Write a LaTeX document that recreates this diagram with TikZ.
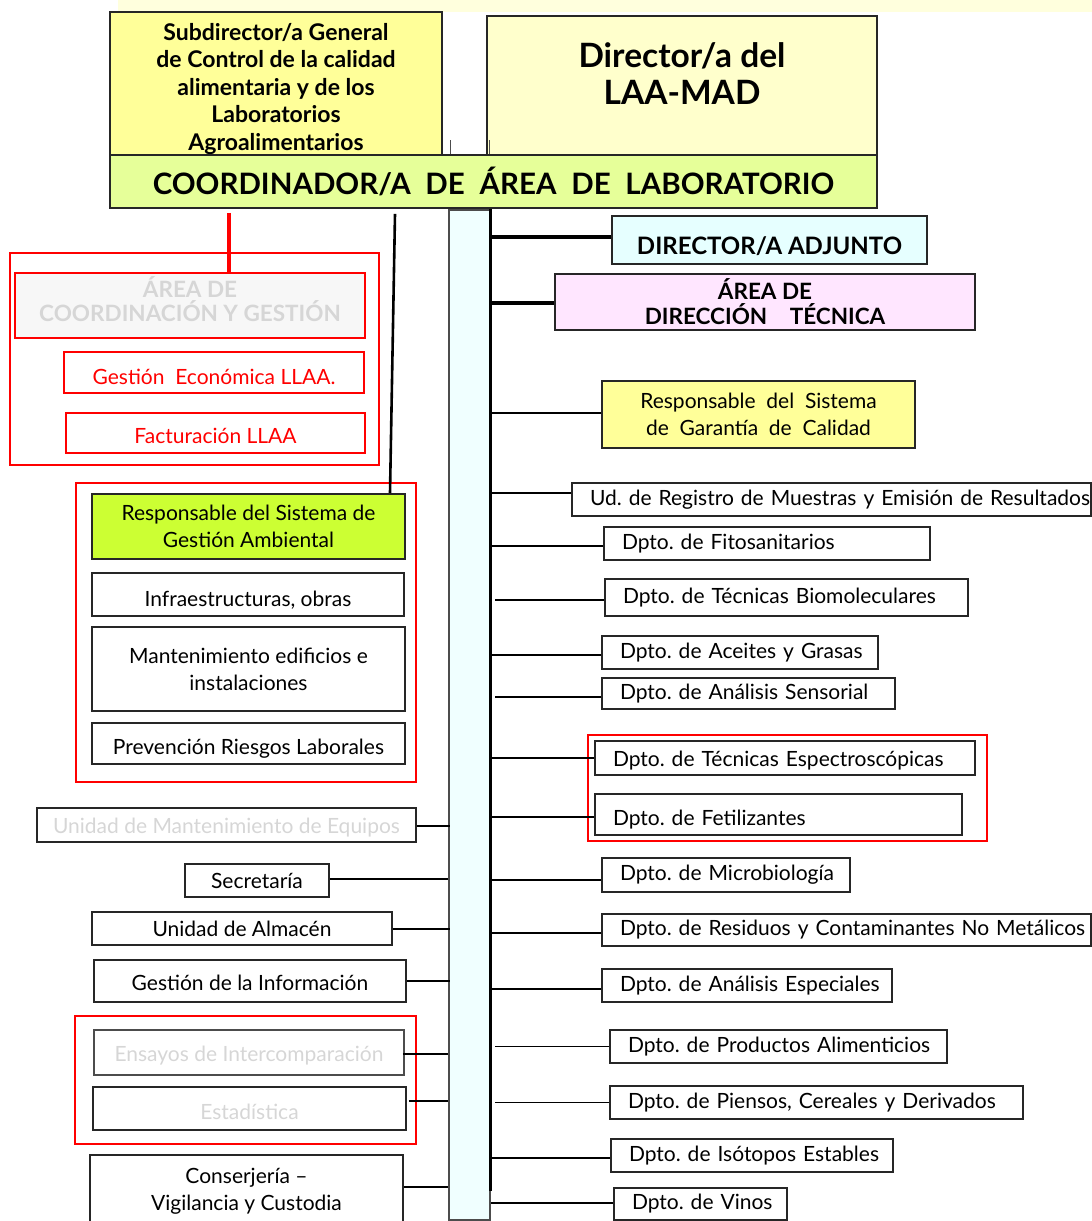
\documentclass[tikz,border=0pt]{standalone}
\usepackage{fontspec}
\setmainfont{Lato}
\definecolor{bandY}{HTML}{FFFFDD}
\definecolor{subY}{HTML}{FFFF99}
\definecolor{dirY}{HTML}{FFFFCC}
\definecolor{coordG}{HTML}{E6FF99}
\definecolor{adjC}{HTML}{E6FFFF}
\definecolor{tecP}{HTML}{FFE6FF}
\definecolor{gaG}{HTML}{CCFF33}
\definecolor{barC}{HTML}{F0FFFF}
\definecolor{ghost}{HTML}{D6D6D6}
\definecolor{ghostF}{HTML}{F7F7F7}
\newcommand\fs[2]{\fontsize{#1}{#2}\selectfont}
% name, x1, y1, x2, y2, options, text
\newcommand\bx[7]{%
  \pgfmathsetmacro\bxw{#4-#2}\pgfmathsetmacro\bxh{#5-#3}%
  \node[#6,minimum width=\bxw pt,minimum height=\bxh pt] (#1) at ({(#2+#4)/2},{(#3+#5)/2}) {#7};}
% left-aligned department box
\newcommand\dept[7]{%
  \pgfmathsetmacro\bxw{#4-#2}\pgfmathsetmacro\bxh{#5-#3}\pgfmathsetmacro\bxt{#4-#2-36}%
  \node[box,align=left,text width=\bxt pt,minimum width=\bxw pt,minimum height=\bxh pt,#6] (#1) at ({(#2+#4)/2},{(#3+#5)/2}) {\mbox{#7}};}
\begin{document}
\frenchspacing
\begin{tikzpicture}[x=1pt,y=-1pt,
  box/.style={draw=black!85,line width=1.6pt,inner sep=0pt,align=center,font=\fs{21}{27}},
  rbox/.style={draw=red,line width=1.4pt,inner sep=0pt},
  conn/.style={line width=1.6pt},
  tconn/.style={line width=3.8pt},
  tdown/.style={text height=#1,text depth=0pt}]
\useasboundingbox (0,0) rectangle (1092,1221);
% top band
\fill[bandY] (118,0) rectangle (1092,12);
% top boxes
\bx{sub}{110}{12}{442}{155}{box,fill=subY}{}
\node[font=\fs{23}{27.5}\bfseries,align=center] (subtext) at (276,89) {Subdirector/a General\\de Control de la calidad\\alimentaria y de los\\Laboratorios\\Agroalimentarios};
\bx{dir}{487}{16}{877}{155}{box,fill=dirY}{}
\node[font=\fs{33.5}{37}\bfseries,align=center] (dirtext) at (682,74) {Director/a del\\LAA-MAD};
\coordinate (t1a) at (450,140); \coordinate (t1b) at (450,155);
\coordinate (t2a) at (489,140); \coordinate (t2b) at (489,155);
\draw[line width=0.8pt,black!70] (t1a) -- (t1b) (t2a) -- (t2b);
\bx{coord}{110}{155}{877}{208}{box,fill=coordG,font=\fs{29.5}{32}\bfseries}{COORDINADOR/A\enspace DE\enspace ÁREA\enspace DE\enspace LABORATORIO}
% vertical bar
\bx{bar}{449}{210}{490}{1220}{draw=black!70,line width=1.4pt,fill=barC}{}
\draw[line width=2.6pt] (bar.north east) -- ([yshift=30pt]bar.south east);
% right column
\bx{adj}{612}{216}{927}{264}{box,fill=adjC,font=\fs{24}{24}\bfseries}{\raisebox{-14pt}[0pt][0pt]{DIRECTOR/A ADJUNTO}}
\bx{tec}{555}{274}{975}{330}{box,fill=tecP,font=\fs{22.5}{25}\bfseries}{ÁREA DE\\DIRECCIÓN\quad TÉCNICA}
\bx{gar}{602}{381}{915}{448}{box,fill=subY}{Responsable\ \ del\ \ Sistema\\de\ \ Garantía\ \ de\ \ Calidad}
\draw[tconn] ([yshift=3pt]adj.west) -- ++(-122,0);
\draw[tconn] ([yshift=-1pt]tec.west) -- ++(-65,0);
\draw[conn] ([yshift=1.5pt]gar.west) -- ++(-112,0);
% red group right
\bx{rg4}{588}{735}{987}{841}{rbox}{}
\dept{reg}{572}{483}{1091}{516}{}{Ud. de Registro de Muestras y Emisión de Resultados}
\dept{fito}{604}{527}{930}{560}{}{Dpto. de Fitosanitarios}
\dept{bio}{605}{579}{968}{616}{}{Dpto. de Técnicas Biomoleculares}
\dept{ace}{602}{636}{878}{669}{}{Dpto. de Aceites y Grasas}
\dept{sen}{602}{678}{895}{709}{}{Dpto. de Análisis Sensorial}
\dept{esp}{595}{741}{975}{775}{tdown=16.8pt}{Dpto. de Técnicas Espectroscópicas}
\dept{fet}{595}{794}{962}{835}{}{\raisebox{-11pt}[0pt][0pt]{Dpto. de Fetilizantes}}
\dept{micro}{602}{858}{850}{892}{}{Dpto. de Microbiología}
\dept{res}{602}{914}{1091}{946}{}{Dpto. de Residuos y Contaminantes No Metálicos}
\dept{aesp}{602}{969}{892}{1002}{}{Dpto. de Análisis Especiales}
\dept{prod}{610}{1030}{947}{1063}{}{Dpto. de Productos Alimenticios}
\dept{pien}{610}{1086}{1023}{1119}{}{Dpto. de Piensos, Cereales y Derivados}
\dept{iso}{611}{1139}{893}{1172}{}{Dpto. de Isótopos Estables}
\dept{vin}{614}{1188}{787}{1220}{}{Dpto. de Vinos}
\draw[conn] ([yshift=6.5pt]reg.west) -- ++(-82,0);
\draw[conn] ([yshift=-2.5pt]fito.west) -- ++(-114,0);
\draw[conn] ([yshift=-2.5pt]bio.west) -- ++(-109,0);
\draw[conn] ([yshift=-2.5pt]ace.west) -- ++(-112,0);
\draw[conn] ([yshift=-3.5pt]sen.west) -- ++(-106,0);
\draw[conn] (esp.west) -- ++(-105,0);
\draw[conn] ([yshift=-2.5pt]fet.west) -- ++(-105,0);
\draw[conn] ([yshift=-5pt]micro.west) -- ++(-112,0);
\draw[conn] ([yshift=-3pt]res.west) -- ++(-112,0);
\draw[conn] ([yshift=-3.5pt]aesp.west) -- ++(-112,0);
\draw[conn] (prod.west) -- ++(-114,0);
\draw[conn] (pien.west) -- ++(-114,0);
\draw[conn] ([yshift=-2.5pt]iso.west) -- ++(-121,0);
\draw[conn] ([yshift=1pt]vin.west) -- ++(-122,0);
% left upper groups
\bx{rg1}{10}{253}{379}{465}{rbox}{}
\bx{acg}{15}{273}{365}{338}{rbox,fill=ghostF}{}
\node[text=ghost,align=center,font=\fs{22.5}{24}\bfseries] (acgtext) at (190,299) {ÁREA DE\\COORDINACIÓN Y GESTIÓN};
\bx{gec}{64}{352}{364}{393}{rbox,text=red,font=\fs{21}{24},tdown=23pt}{Gestión\ \ Económica LLAA.}
\bx{fac}{66}{413}{365}{453}{rbox,text=red,font=\fs{21}{24},tdown=21pt}{Facturación LLAA}
\draw[red,line width=3.8pt] ([xshift=-264.5pt,yshift=-4pt]coord.south) -- ([xshift=39pt]acg.north);
\bx{rg2}{76}{483}{416}{782}{rbox}{}
\bx{rga}{92}{494}{405}{559}{box,fill=gaG,line width=2pt}{Responsable del Sistema de\\Gestión Ambiental}
\bx{inf}{92}{573}{404}{616}{box,tdown=24pt}{Infraestructuras, obras}
\bx{mant}{92}{627}{405}{711}{box}{Mantenimiento edificios e\\instalaciones}
\bx{prev}{92}{723}{405}{764}{box,tdown=22.8pt}{Prevención Riesgos Laborales}
\draw[line width=2.6pt] ([xshift=-98.5pt,yshift=-5pt]coord.south) -- ([xshift=141.5pt]rga.north);
% left lower boxes
\bx{um}{37}{808}{416}{842}{box,text=ghost,tdown=16.8pt}{Unidad de Mantenimiento de Equipos}
\bx{sec}{185}{864}{329}{897}{box}{Secretaría}
\bx{alm}{92}{912}{392}{945}{box}{Unidad de Almacén}
\bx{ginf}{94}{960}{406}{1002}{box,tdown=19.2pt}{Gestión de la Información}
\bx{rg3}{75}{1016}{416}{1144}{rbox}{}
\bx{ens}{94}{1030}{404}{1075}{box,draw=black!70,text=ghost,tdown=18.8pt}{Ensayos de Intercomparación}
\bx{est}{93}{1087}{406}{1130}{box,text=ghost,tdown=21.2pt}{Estadística}
\bx{cons}{90}{1155}{403}{1228}{box}{Conserjería --\\Vigilancia y Custodia}
\draw[conn] ([yshift=-1pt]um.east) -- ++(33,0);
\draw[conn] ([yshift=1.5pt]sec.east) -- ++(118,0);
\draw[conn] ([yshift=-0.5pt]alm.east) -- ++(57,0);
\draw[conn] (ginf.east) -- ++(43,0);
\draw[conn] ([yshift=-1.5pt,xshift=-2pt]ens.east) -- ++(45,0);
\draw[conn] ([yshift=7.5pt,xshift=2pt]est.east) -- ++(39,0);
\draw[conn] ([yshift=4.5pt]cons.east) -- ++(44,0);
\end{tikzpicture}
\end{document}
